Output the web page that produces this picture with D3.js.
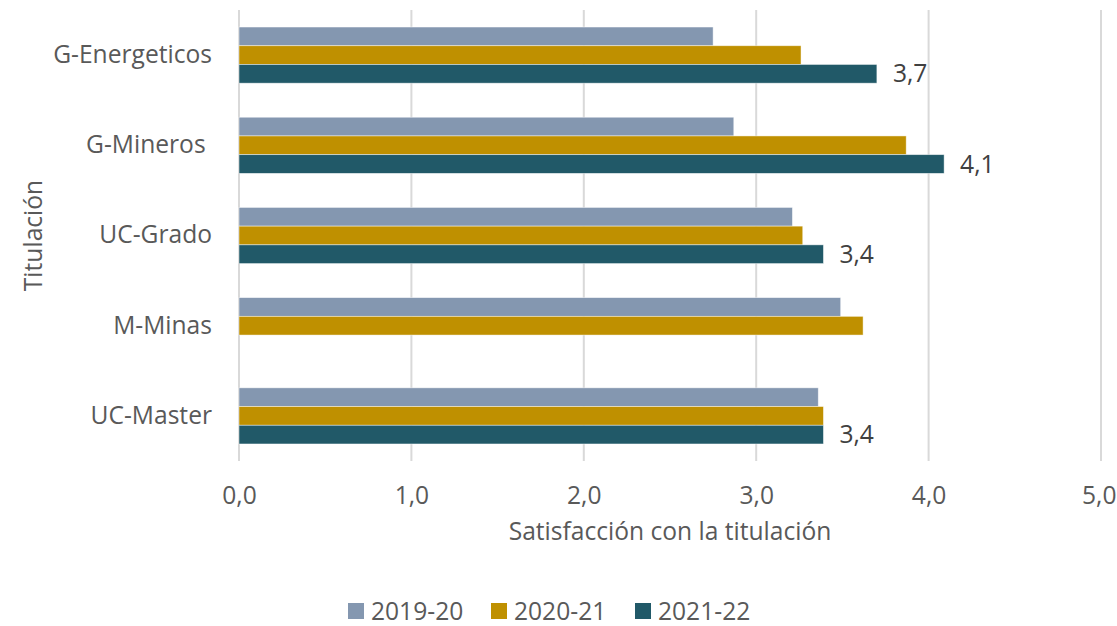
<!DOCTYPE html>
<html>
<head>
<meta charset="utf-8">
<script src="https://cdn.jsdelivr.net/npm/d3@7"></script>
<style>
	body { margin: 0; background: #fff; }
	text { font-family: "Open Sans", "Noto Sans", sans-serif; fill: #595959; }
</style>
</head>
<body>
<div id="chart"></div>
<script>
// DATA
var categories = ["G-Energeticos", "G-Mineros ", "UC-Grado", "M-Minas", "UC-Master"];
var series = ["2019-20", "2020-21", "2021-22"];
var values2019 = [2.75, 2.87, 3.21, 3.49, 3.36];
var values2020 = [3.26, 3.87, 3.27, 3.62, 3.39];
var values2021 = [3.70, 4.09, 3.39, null, 3.39];
var xTicks = [0, 1, 2, 3, 4, 5];
var colors = ["#8497B0", "#BF9000", "#215968"];

var WIDTH = 1117, HEIGHT = 626;
var FONT = 24.6;
var plot = {left: 239, right: 1101, top: 10, bottom: 461};

var svg = d3.select("#chart").append("svg")
	.attr("width", WIDTH)
	.attr("height", HEIGHT);

var x = d3.scaleLinear().domain([0, 5]).range([plot.left, plot.right]);
var y0 = d3.scaleBand().domain(categories).range([plot.top, plot.bottom]);
var y1 = d3.scaleBand().domain(series).range([0, y0.bandwidth()]).paddingOuter(0.91);

var allValues = [values2019, values2020, values2021];
var rows = [];
categories.forEach(function(c, i){
	series.forEach(function(s, si){
		if (allValues[si][i] != null) rows.push({cat: c, series: s, si: si, value: allValues[si][i]});
	});
});

//GRIDLINES
svg.append("g")
	.selectAll("line")
	.data(xTicks)
	.enter().append("line")
	.attr("x1", function(d){ return x(d); })
	.attr("x2", function(d){ return x(d); })
	.attr("y1", plot.top)
	.attr("y2", plot.bottom)
	.attr("stroke", "#d9d9d9")
	.attr("stroke-width", 2);

//BARS
svg.append("g")
	.selectAll("rect")
	.data(rows)
	.enter().append("rect")
	.attr("x", x(0))
	.attr("y", function(d){ return y0(d.cat) + y1(d.series); })
	.attr("width", function(d){ return x(d.value) - x(0); })
	.attr("height", y1.bandwidth())
	.attr("fill", function(d){ return colors[d.si]; })
	.attr("stroke", "#ffffff")
	.attr("stroke-opacity", 0.6)
	.attr("stroke-width", 0.75);

//DATA LABELS (ONLY LAST SERIES)
var fmt = function(v){ return d3.format(".1f")(v).replace(".", ","); };
svg.append("g")
	.selectAll("text")
	.data(rows.filter(function(d){ return d.si == 2; }))
	.enter().append("text")
	.attr("x", function(d){ return x(d.value) + 16; })
	.attr("y", function(d){ return y0(d.cat) + y1(d.series) + y1.bandwidth() / 2; })
	.attr("dy", "0.35em")
	.style("font-size", FONT + "px")
	.style("fill", "#404040")
	.text(function(d){ return fmt(d.value); });

//X AXIS
var xAxis = svg.append("g")
	.attr("transform", "translate(0," + plot.bottom + ")")
	.call(d3.axisBottom(x).tickValues(xTicks).tickSize(0).tickPadding(26).tickFormat(fmt));
xAxis.select(".domain").remove();
xAxis.selectAll("text").style("font-size", FONT + "px").attr("fill", null);
// last label would run past the right edge: pin it inside
xAxis.selectAll(".tick").filter(function(d){ return d == 5; }).select("text")
	.attr("text-anchor", "end")
	.attr("x", WIDTH - 1 - x(5));

//Y AXIS
var yAxis = svg.append("g")
	.attr("transform", "translate(" + (plot.left - 27) + ",0)")
	.call(d3.axisLeft(y0).tickSize(0).tickPadding(0));
yAxis.select(".domain").remove();
yAxis.selectAll("text").style("font-size", FONT + "px").style("white-space", "pre").attr("fill", null);

//AXIS TITLES
svg.append("text")
	.attr("x", (plot.left + plot.right) / 2)
	.attr("y", 531)
	.attr("dy", "0.35em")
	.attr("text-anchor", "middle")
	.style("font-size", FONT + "px")
	.text("Satisfacción con la titulación");

svg.append("text")
	.attr("transform", "translate(33," + ((plot.top + plot.bottom) / 2) + ") rotate(-90)")
	.attr("dy", "0.35em")
	.attr("text-anchor", "middle")
	.style("font-size", FONT + "px")
	.text("Titulación");

//LEGEND
var legendX = [348, 491, 635];
var legend = svg.append("g")
	.selectAll("g")
	.data(series)
	.enter().append("g")
	.attr("transform", function(d, i){ return "translate(" + legendX[i] + ",603)"; });
legend.append("rect")
	.attr("width", 16)
	.attr("height", 16)
	.attr("fill", function(d, i){ return colors[i]; });
legend.append("text")
	.attr("x", 23)
	.attr("y", 8)
	.attr("dy", "0.35em")
	.style("font-size", FONT + "px")
	.text(function(d){ return d; });
</script>
</body>
</html>
